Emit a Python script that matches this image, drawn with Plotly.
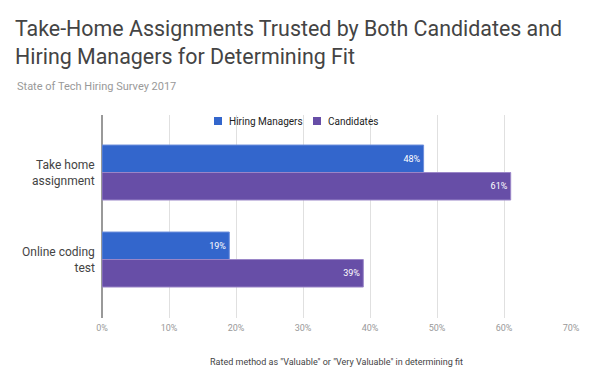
import plotly.graph_objects as go

categories = ["Take home<br>assignment", "Online coding<br>test"]
series_names = ["Hiring Managers", "Candidates"]
series_colors = ["#3366cc", "#674ea7"]
hiring_managers = [48, 19]
candidates = [61, 39]
tick_vals = [0, 10, 20, 30, 40, 50, 60, 70]
tick_text = ["0%", "10%", "20%", "30%", "40%", "50%", "60%", "70%"]

L, T, W, H = 102, 115, 469, 203
def px(x):
    return (x - L) / W
def py(y):
    return 1 - (y - T) / H

fig = go.Figure()
fig.add_trace(go.Bar(
    y=categories, x=hiring_managers, orientation="h", name=series_names[0],
    marker=dict(color=series_colors[0], line=dict(color="#6f8fdc", width=1)),
    text=[f"{v}%" for v in hiring_managers], textposition="inside",
    insidetextanchor="end", textfont=dict(color="white", size=9, family="Roboto"),
))
fig.add_trace(go.Bar(
    y=categories, x=candidates, orientation="h", name=series_names[1],
    marker=dict(color=series_colors[1], line=dict(color="#9a86c8", width=1)),
    text=[f"{v}%" for v in candidates], textposition="inside",
    insidetextanchor="end", textfont=dict(color="white", size=9, family="Roboto"),
))

fig.update_layout(
    width=596, height=390,
    margin=dict(l=L, r=596 - L - W, t=T, b=390 - T - H, autoexpand=False),
    paper_bgcolor="white", plot_bgcolor="white",
    font=dict(family="Roboto", color="#444"),
    barmode="group", bargap=0.368, bargroupgap=0,
    showlegend=False,
    title=dict(text="Take-Home Assignments Trusted by Both Candidates and<br>Hiring Managers for Determining Fit",
               x=15/596, xanchor="left", y=1-36/390, yanchor="top",
               font=dict(size=21.4, color="#444", family="Roboto")),
    xaxis=dict(range=[0, 70], tickvals=tick_vals, ticktext=tick_text,
               showgrid=True, gridcolor="#e0e0e0", gridwidth=1,
               zeroline=True, zerolinecolor="#999", zerolinewidth=1.5,
               tickfont=dict(size=9, color="#999"), ticks="", showline=False,
               automargin=False, ticklabelstandoff=3,
               title=dict(text='Rated method as "Valuable" or "Very Valuable" in determining fit',
                          font=dict(size=9, color="#444"), standoff=26)),
    yaxis=dict(type="category", range=[1.672, -0.661], showgrid=False,
               showticklabels=False, ticks="", automargin=False,
               showline=False, zeroline=False),
)
for cat in categories:
    fig.add_annotation(text=cat, xref="paper", yref="y", x=px(97), y=cat,
                       xanchor="right", yanchor="middle", align="right", showarrow=False,
                       font=dict(size=12, color="#444", family="Roboto"))
fig.add_annotation(text="State of Tech Hiring Survey 2017", xref="paper", yref="paper",
                   x=px(15), y=py(86), xanchor="left", yanchor="middle",
                   showarrow=False, font=dict(size=11, color="#999", family="Roboto"))

# legend drawn manually
for name, color, sx in zip(series_names, series_colors, [214, 313]):
    fig.add_shape(type="rect", xref="paper", yref="paper",
                  x0=px(sx), x1=px(sx + 8), y0=py(125), y1=py(117),
                  fillcolor=color, line=dict(width=0))
    fig.add_annotation(text=name, xref="paper", yref="paper", x=px(sx + 13), y=py(121),
                       xanchor="left", yanchor="middle", showarrow=False,
                       font=dict(size=10, color="#222", family="Roboto"))

fig.write_html("out.html", config={"displayModeBar": False},
               post_script="document.body.style.margin='0';document.body.style.overflow='hidden';")
